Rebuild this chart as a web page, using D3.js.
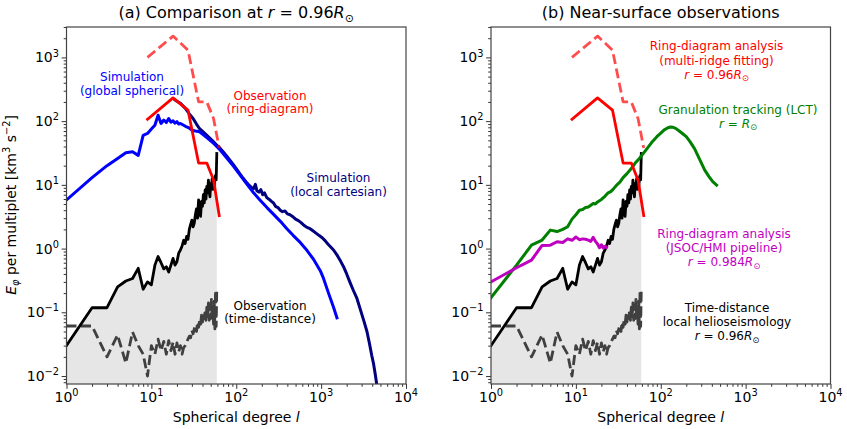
<!DOCTYPE html>
<html><head><meta charset="utf-8">
<script src="https://cdn.jsdelivr.net/npm/d3@7"></script>
<style>
body{margin:0;background:#fff;}
svg{font-family:"DejaVu Sans",sans-serif;}
</style></head><body>
<svg id="chart" width="847" height="429"></svg>
<script>
// ---------------- DATA ----------------
// Ring-diagram (multi-ridge fitting), r = 0.96 Rsun
const ringL = [9, 18, 27, 36, 45, 54, 63];
const ringSolid = [107, 232, 149, 22, 22, 11.9, 3.3];
const ringDashed = [1000, 2160, 1300, 201, 200, 110, 38];

// Time-distance, r = 0.96 Rsun
const tdL = [1,2,3,4,5,6,7,8,9,10,11,12,13,14,15,16,17,18,19,20,
  21,22,23,24,25,26,27,28,29,30,31,32,33,34,35,36,37,38,39,40,
  41,42,43,44,45,46,47,48,49,50,51,52,53,54,55,56,57,58,59];
const tdSolid = [0.030,0.118,0.118,0.25,0.31,0.34,0.49,0.23,0.30,0.27,
  0.55,0.75,0.60,0.48,0.52,0.43,0.55,0.70,0.55,0.62,
  0.85,0.95,1.10,1.35,1.20,1.55,1.40,2.00,2.40,2.80,
  2.20,2.50,3.40,4.20,3.00,5.80,4.00,3.20,5.50,4.60,
  7.00,5.20,8.30,6.00,9.50,7.50,11.9,8.00,6.50,10.5,
  9.30,12.5,8.50,11.0,9.00,13.0,14.0,12.0,31.0];
const tdDashed = [0.061,0.061,0.020,0.044,0.016,0.049,0.030,0.022,0.010,0.030,
  0.022,0.038,0.025,0.035,0.022,0.036,0.025,0.034,0.022,0.033,
  0.024,0.030,0.022,0.028,0.030,0.034,0.038,0.042,0.040,0.052,
  0.046,0.055,0.062,0.050,0.070,0.058,0.075,0.065,0.090,0.070,
  0.100,0.080,0.110,0.075,0.120,0.085,0.140,0.075,0.130,0.080,
  0.160,0.085,0.120,0.065,0.150,0.055,0.220,0.060,0.240];

// Simulation (global spherical)
const globL = [1,2,3,4,5,6,7,8,9,10,11,12,13,14,15,16,17,18,19,20,21,22,
  24,26,28,30,33,37,45,55,65,80,93,110,130,160,190,
  230,272,329,395,470,567,680,813,977,1067,1222,1400,1536];
const globV = [5.8,13,20,26,32,33,29,60,64,75,86,124,92,104,95,110,96,101,93,98,90,92,
  86,81,78,72,70,68,55,44,35,25,19.5,14.5,10.8,7.5,5.8,
  4.4,3.5,2.7,2.05,1.6,1.25,0.94,0.68,0.45,0.34,0.20,0.12,0.082];

// Simulation (local cartesian)
const cartL = [19,20,22,25,28,31,34,37,41,46,52,58,64,70,77,85,93,100,110,120,
  130,140,150,160,168,175,185,195,205,215,229,245,260,275,290,310,330,350,375,400,
  430,460,500,540,580,620,680,740,800,870,950,1030,1120,1200,1280,1400,1550,1700,1837,2000,
  2200,2400,2643,2900,3200,3467,3700,3950,4150,4350,4550];
const cartV = [215,205,190,160,130,110,90,76,67,58,50,43,38,33,28.5,24,20.5,18,15,12.8,
  11.2,10,9.2,8.7,10.2,8.1,7.7,8.4,7.0,7.5,6.3,5.9,5.5,5.2,4.6,4.4,4.0,3.8,3.9,3.5,
  3.4,3.2,2.9,2.75,2.55,2.35,2.15,2.05,1.9,1.75,1.6,1.48,1.32,1.18,1.08,0.95,0.78,0.63,0.52,0.40,
  0.29,0.22,0.165,0.11,0.072,0.050,0.033,0.021,0.0155,0.0105,0.0070];

// Granulation tracking (LCT), r = Rsun
const lctL = [1,2,3,4,5,6,7,8,9,10,11,12,13,14,15,16,17,18,20,22,24,26,28,30,33,36,40,45,
  50,56,62,70,80,90,100,110,120,130,140,150,165,180,200,220,250,290,330,370,410,455];
const lctV = [0.17,0.55,1.13,1.36,1.95,1.85,2.0,2.2,2.9,3.4,4.0,4.1,4.4,4.5,4.8,5.1,5.0,5.4,5.9,6.6,7.5,7.9,8.8,9.8,11,13,15,18,
  22,26,31,38,48,57,65,73,78,81,80,77,70,64,57,48,37,24.5,17,13.5,11.2,9.9];

// Ring-diagram (JSOC/HMI pipeline), r = 0.984 Rsun
const hmiL = [1,2,3,4,5,6,7,8,9,10,11,12,13,14,15,16,17,18,19,20,21,22,23];
const hmiV = [0.30,0.50,0.66,1.12,1.13,1.28,1.25,1.42,1.35,1.52,1.38,1.42,1.40,1.36,1.30,1.50,1.30,1.18,1.03,1.15,1.02,1.08,1.05];

// Ticks
const xTickVals = [1, 10, 100, 1000, 10000];
const xTickExp = ["0", "1", "2", "3", "4"];
const yTickVals = [0.01, 0.1, 1, 10, 100, 1000];
const yTickExp = ["\u22122", "\u22121", "0", "1", "2", "3"];

// ---------------- DRAWING ----------------
const svg = d3.select('#chart');
const Y0 = 384, Y1 = 27;
const y = d3.scaleLog().domain([0.0075, 3000]).range([Y0, Y1]);
const defs = svg.append('defs');
const zip = (a, b) => a.map((v, i) => [v, b[i]]);

function rich(t, parts, size) {
  let cur = 0;
  parts.forEach(([s, st]) => {
    st = st || '';
    let off = 0;
    const ts = t.append('tspan').text(s);
    if (st.includes('sup')) { off = -0.42 * size; ts.attr('font-size', size * 0.7); }
    if (st.includes('sub')) { off = 0.22 * size; ts.attr('font-size', size * 0.7); }
    if (st.includes('i')) ts.attr('font-style', 'italic');
    if (off - cur !== 0) ts.attr('dy', off - cur);
    cur = off;
  });
}
function label(x, yb, parts, color, size) {
  const t = svg.append('text').attr('x', x).attr('y', yb).attr('text-anchor', 'middle')
    .attr('font-size', size).attr('fill', color);
  rich(t, parts, size);
  return t;
}

function panel(x0, x1, titleParts, draw) {
  const x = d3.scaleLog().domain([1, 1e4]).range([x0, x1]);
  const id = 'clip' + Math.round(x0);
  defs.append('clipPath').attr('id', id).append('rect')
    .attr('x', x0).attr('y', Y1).attr('width', x1 - x0).attr('height', Y0 - Y1);
  const plot = svg.append('g').attr('clip-path', `url(#${id})`);
  draw(plot, x);

  const axcol = '#333';
  // x ticks
  const gx = svg.append('g').attr('transform', `translate(0,${Y0})`);
  gx.call(d3.axisBottom(x).tickValues(x.ticks().filter(v => !xTickVals.includes(v))).tickSize(2.8).tickFormat(''));
  gx.call(g => g.select('.domain').remove());
  const gx2 = svg.append('g').attr('transform', `translate(0,${Y0})`);
  gx2.call(d3.axisBottom(x).tickValues(xTickVals).tickSize(4.9).tickFormat(''));
  gx2.call(g => g.select('.domain').remove());
  // y ticks
  const gy = svg.append('g').attr('transform', `translate(${x0},0)`);
  gy.call(d3.axisLeft(y).tickValues(y.ticks().filter(v => !yTickVals.some(t => Math.abs(t - v) / t < 1e-6))).tickSize(2.8).tickFormat(''));
  gy.call(g => g.select('.domain').remove());
  const gy2 = svg.append('g').attr('transform', `translate(${x0},0)`);
  gy2.call(d3.axisLeft(y).tickValues(yTickVals).tickSize(4.9).tickFormat(''));
  gy2.call(g => g.select('.domain').remove());
  svg.selectAll('.tick line').attr('stroke', axcol).attr('stroke-width', 1);

  // frame
  svg.append('rect').attr('x', x0).attr('y', Y1).attr('width', x1 - x0).attr('height', Y0 - Y1)
    .attr('fill', 'none').attr('stroke', '#444').attr('stroke-width', 1.2);

  // tick labels
  xTickVals.forEach((v, i) => {
    const t = svg.append('text').attr('x', x(v)).attr('y', 402).attr('text-anchor', 'middle')
      .attr('font-size', 14).attr('fill', '#000');
    rich(t, [['10'], [xTickExp[i], 'sup']], 14);
  });
  yTickVals.forEach((v, i) => {
    const t = svg.append('text').attr('x', x0 - 7.5).attr('y', y(v) + 5).attr('text-anchor', 'end')
      .attr('font-size', 14).attr('fill', '#000');
    rich(t, [['10'], [yTickExp[i], 'sup']], 14);
  });
  const cx = (x0 + x1) / 2;
  label(cx, 422, [['Spherical degree '], ['l', 'i']], '#000', 14);
  label(cx, 18, titleParts, '#000', 16);
  return x;
}

function path(plot, x, L, V, color, opts) {
  opts = opts || {};
  const line = d3.line().x(d => x(d[0])).y(d => y(d[1]));
  const p = plot.append('path').datum(zip(L, V)).attr('d', line)
    .attr('fill', 'none').attr('stroke', color).attr('stroke-width', opts.w || 2.8)
    .attr('stroke-linejoin', 'round').attr('stroke-linecap', opts.dash ? 'butt' : 'square');
  if (opts.dash) p.attr('stroke-dasharray', opts.dash);
  if (opts.op) p.attr('stroke-opacity', opts.op);
  return p;
}
function shade(plot, x) {
  const area = d3.area().x(d => x(d[0])).y0(Y0).y1(d => y(d[1]));
  plot.append('path').datum(zip(tdL, tdSolid)).attr('d', area).attr('fill', '#e6e6e6');
}

// Panel (a)
panel(66.5, 406, [['(a) Comparison at '], ['r', 'i'], [' = 0.96'], ['R', 'i'], ['\u2299', 'sub']], (plot, x) => {
  shade(plot, x);
  path(plot, x, tdL, tdDashed, '#404040', { dash: '10,4.5' });
  path(plot, x, tdL, tdSolid, '#000');
  path(plot, x, cartL, cartV, '#000080', { w: 3 });
  path(plot, x, globL, globV, '#0000ff', { w: 3 });
  path(plot, x, ringL, ringDashed, '#ff0000', { dash: '10,4.5', op: 0.7 });
  path(plot, x, ringL, ringSolid, '#ff0000');
});

// Panel (b)
panel(491, 830.5, [['(b) Near-surface observations']], (plot, x) => {
  shade(plot, x);
  path(plot, x, tdL, tdDashed, '#404040', { dash: '10,4.5' });
  path(plot, x, tdL, tdSolid, '#000');
  path(plot, x, lctL, lctV, '#008000', { w: 3 });
  path(plot, x, hmiL, hmiV, '#bf00bf', { w: 3 });
  path(plot, x, ringL, ringDashed, '#ff0000', { dash: '10,4.5', op: 0.7 });
  path(plot, x, ringL, ringSolid, '#ff0000');
});

// Y axis label
const yl = svg.append('text').attr('transform', 'translate(15.5,205) rotate(-90)')
  .attr('text-anchor', 'middle').attr('font-size', 14).attr('fill', '#000');
rich(yl, [['E', 'i'], ['\u03c6', 'isub'], [' per multiplet [km'], ['3', 'sup'], [' s'], ['\u22122', 'sup'], [']']], 14);

// Annotations panel (a)
label(132, 81, [['Simulation']], '#0000ff', 12);
label(132, 94.5, [['(global spherical)']], '#0000ff', 12);
label(270, 99.5, [['Observation']], '#ff0000', 12);
label(270, 113, [['(ring-diagram)']], '#ff0000', 12);
label(338.5, 182, [['Simulation']], '#000080', 12);
label(338.5, 195.5, [['(local cartesian)']], '#000080', 12);
label(270, 309.5, [['Observation']], '#000', 12);
label(270, 323, [['(time-distance)']], '#000', 12);

// Annotations panel (b)
label(716.5, 50, [['Ring-diagram analysis']], '#ff0000', 12);
label(716.5, 64.5, [['(multi-ridge fitting)']], '#ff0000', 12);
label(716.5, 78.5, [['r', 'i'], [' = 0.96'], ['R', 'i'], ['\u2299', 'sub']], '#ff0000', 12);
label(738, 113.5, [['Granulation tracking (LCT)']], '#008000', 12);
label(738, 127.5, [['r', 'i'], [' = '], ['R', 'i'], ['\u2299', 'sub']], '#008000', 12);
label(724, 237.5, [['Ring-diagram analysis']], '#bf00bf', 12);
label(724, 252, [['(JSOC/HMI pipeline)']], '#bf00bf', 12);
label(724, 266, [['r', 'i'], [' = 0.984'], ['R', 'i'], ['\u2299', 'sub']], '#bf00bf', 12);
label(727, 311.5, [['Time-distance']], '#000', 12);
label(727, 326, [['local helioseismology']], '#000', 12);
label(727, 340, [['r', 'i'], [' = 0.96'], ['R', 'i'], ['\u2299', 'sub']], '#000', 12);
</script>
</body></html>
